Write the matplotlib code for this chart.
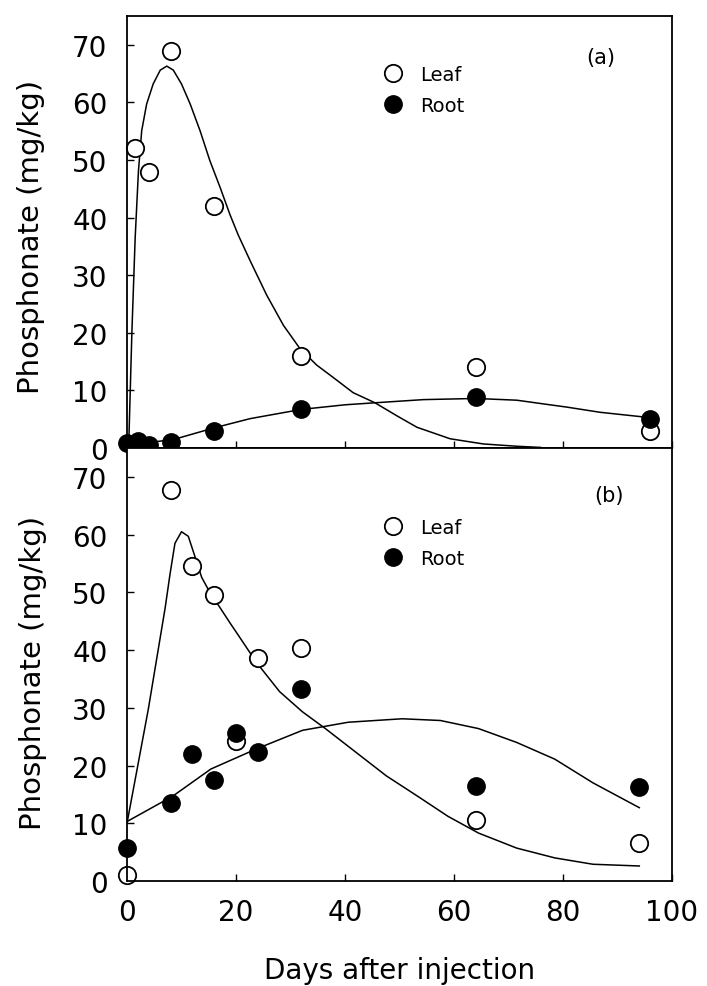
import numpy as np
import matplotlib
matplotlib.use("Agg")
import matplotlib.pyplot as plt

# panel (a) measured points
days_a = [0, 2, 4, 8, 16, 32, 64, 96]
leaf_a_days = [1.5, 4, 8, 16, 32, 64, 96]
leaf_a = [52, 48, 69, 42, 16, 14, 3]
root_a = [0.8, 1.2, 0.6, 1.0, 3.0, 6.7, 8.8, 5.0]

# panel (a) fitted curves
fit_a_leaf_x = [0.3, 0.9, 1.5, 2.1, 2.7, 3.6, 4.8, 6.1, 7.3, 8.5, 10.0, 11.6, 13.4, 15.2, 17.1,
                18.9, 20.4, 22.6, 25.6, 28.7, 31.7, 34.8, 37.9, 41.5, 45.5, 49.5, 53.2, 59.3,
                65.4, 71.6, 75.9]
fit_a_leaf_y = [0, 20.2, 36.5, 48.1, 55.1, 59.7, 63.2, 65.6, 66.3, 65.6, 63.2, 59.7, 55.1, 49.9, 45.2,
                40.5, 37.0, 32.5, 26.6, 21.3, 17.3, 14.4, 12.2, 9.6, 7.85, 5.6, 3.6, 1.6,
                0.7, 0.3, 0.1]
fit_a_root_x = [0, 4, 9, 16, 22.6, 32, 40, 45.5, 54.4, 64, 71.5, 77.6, 80.7, 86.8, 94.7]
fit_a_root_y = [0.6, 0.9, 1.6, 3.5, 5.1, 6.7, 7.5, 7.85, 8.4, 8.6, 8.3, 7.5, 7.1, 6.2, 5.4]

# panel (b) measured points
days_b = [0, 8, 12, 16, 20, 24, 32, 64, 94]
leaf_b = [1.0, 67.8, 54.6, 49.6, 24.3, 38.6, 40.3, 10.6, 6.6]
root_b = [5.7, 13.5, 22.0, 17.5, 25.6, 22.4, 33.2, 16.4, 16.2]

# panel (b) fitted curves
fit_b_leaf_x = [0, 3.9, 5.45, 7.0, 7.9, 8.8, 10.0, 11.25, 12.5, 13.7, 15.2, 17.1, 18.9, 20.4,
                23.8, 28, 32.2, 36.4, 42, 47.6, 53.3, 58.9, 64.5, 71.5, 78.5, 85.5, 94]
fit_b_leaf_y = [10, 29.7, 38.5, 47.3, 53.2, 58.5, 60.5, 59.7, 56.1, 52.6, 50.0, 47.3, 44.7, 42.6,
                37.8, 32.8, 29.3, 26.4, 22.3, 18.2, 14.7, 11.2, 8.3, 5.7, 4.0, 2.9, 2.6]
fit_b_root_x = [0, 8.4, 15.4, 23.8, 32.2, 40.6, 50.5, 57.5, 64.5, 71.5, 78.5, 85.5, 94]
fit_b_root_y = [10.3, 14.7, 19.4, 22.9, 26.1, 27.5, 28.1, 27.8, 26.4, 24.0, 21.1, 17.0, 12.7]

yticks = [0, 10, 20, 30, 40, 50, 60, 70]
xticks = [0, 20, 40, 60, 80, 100]

fig = plt.figure(figsize=(7.07, 9.87), dpi=100)
ax1 = fig.add_axes([127/707, (987-449)/987, 545/707, 432/987])
ax2 = fig.add_axes([127/707, (987-882)/987, 545/707, 433/987])

ms = 12.5
for ax in (ax1, ax2):
    ax.set_xlim(0, 100)
    ax.set_ylim(0, 75)
    ax.set_yticks(yticks)
    ax.set_xticks(xticks)
    ax.tick_params(direction="in", length=5, width=1, labelsize=20, pad=14)
    for s in ax.spines.values():
        s.set_linewidth(1.3)
    ax.set_ylabel("Phosphonate (mg/kg)", fontsize=21)

ax1.tick_params(axis="x", labelbottom=False)

# panel (a)
ax1.plot(fit_a_leaf_x, fit_a_leaf_y, color="black", lw=1.1)
ax1.plot(fit_a_root_x, fit_a_root_y, color="black", lw=1.1)
ax1.plot(leaf_a_days, leaf_a, "o", ms=ms, mfc="white", mec="black", mew=1.3, label="Leaf", clip_on=False)
ax1.plot(days_a, root_a, "o", ms=ms, mfc="black", mec="black", label="Root", clip_on=False)
ax1.legend(loc="upper left", bbox_to_anchor=(0.47, 0.886), frameon=False, fontsize=14,
           handlelength=1, handletextpad=0.9, borderpad=0, borderaxespad=0, labelspacing=0.6)
ax1.text(0.87, 0.905, "(a)", transform=ax1.transAxes, fontsize=15, ha="center", va="center")

# panel (b)
ax2.plot(fit_b_leaf_x, fit_b_leaf_y, color="black", lw=1.1)
ax2.plot(fit_b_root_x, fit_b_root_y, color="black", lw=1.1)
ax2.plot(days_b, leaf_b, "o", ms=ms, mfc="white", mec="black", mew=1.3, label="Leaf", clip_on=False)
ax2.plot(days_b, root_b, "o", ms=ms, mfc="black", mec="black", label="Root", clip_on=False)
ax2.legend(loc="upper left", bbox_to_anchor=(0.47, 0.838), frameon=False, fontsize=14,
           handlelength=1, handletextpad=0.9, borderpad=0, borderaxespad=0, labelspacing=0.6)
ax2.text(0.884, 0.891, "(b)", transform=ax2.transAxes, fontsize=15, ha="center", va="center")
ax2.tick_params(axis="x", pad=12)
ax2.set_xlabel("Days after injection", fontsize=20)

ax1.yaxis.set_label_coords(-0.150, 0.49)
ax2.yaxis.set_label_coords(-0.147, 0.483)
ax2.xaxis.set_label_coords(0.5, -0.174)

fig.savefig("out.png", dpi=100)
